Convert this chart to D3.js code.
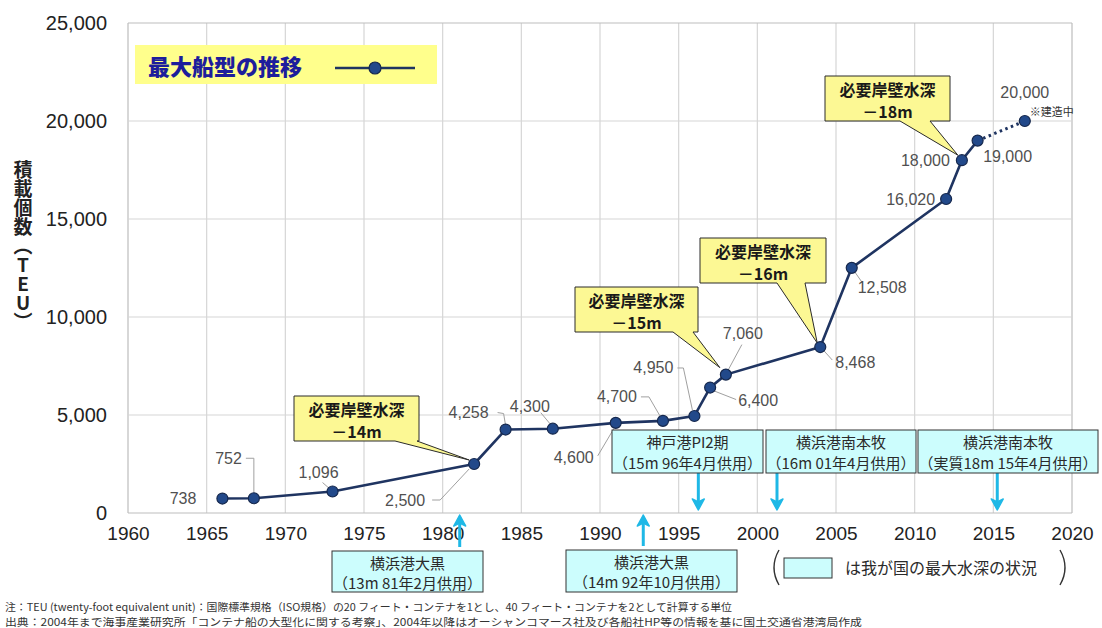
<!DOCTYPE html>
<html>
<head>
<meta charset="utf-8">
<script src="https://cdn.jsdelivr.net/npm/d3@7"></script>
<style>
  body { margin: 0; background: #fff; }
  svg { display: block; }
</style>
</head>
<body>
<svg id="chart" width="1102" height="628"></svg>
<script>
// ---- data ----
const years = [1966, 1968, 1973, 1982, 1984, 1987, 1991, 1994, 1996, 1997, 1998, 2004, 2006, 2012, 2013, 2014, 2017];
const teu   = [738, 752, 1096, 2500, 4258, 4300, 4600, 4700, 4950, 6400, 7060, 8468, 12508, 16020, 18000, 19000, 20000];
const xTicks = [1960, 1965, 1970, 1975, 1980, 1985, 1990, 1995, 2000, 2005, 2010, 2015, 2020];
const yTicks = [0, 5000, 10000, 15000, 20000, 25000];

// required berth depth callouts and the vessel each one points to
const depthLabels = ["－14m", "－15m", "－16m", "－18m"];
const depthYears  = [1982, 1998, 2004, 2013];

// deepest berths in Japan
const portNames = ["横浜港大黒", "横浜港大黒", "神戸港PI2期", "横浜港南本牧", "横浜港南本牧"];
const portNotes = ["（13m 81年2月供用）", "（14m 92年10月供用）", "（15m 96年4月供用）", "（16m 01年4月供用）", "（実質18m 15年4月供用）"];
const portDates = [1981 + 1/12, 1992 + 9/12, 1996 + 3/12, 2001 + 3/12, 2015 + 3/12];

const legendTitle = "最大船型の推移";
const axisTitle = "積載個数（TEU）";
const note1 = "注：TEU (twenty-foot equivalent unit)：国際標準規格（ISO規格）の20 フィート・コンテナを1とし、40 フィート・コンテナを2として計算する単位";
const note2 = "出典：2004年まで海事産業研究所「コンテナ船の大型化に関する考察」、2004年以降はオーシャンコマース社及び各船社HP等の情報を基に国土交通省港湾局作成";

// ---- layout ----
const svg = d3.select("#chart");
const x = d3.scaleLinear().domain([1960, 2020]).range([128, 1072]);
const y = d3.scaleLinear().domain([0, 25000]).range([513, 23]);
const fmt = d3.format(",");
const LATIN = "'Liberation Sans', Arial, 'Noto Sans CJK JP', sans-serif";
const CJK = "'Noto Sans CJK JP', 'Noto Sans CJK SC', sans-serif";
const NAVY = "#1f3461";

// gridlines
const grid = svg.append("g");
grid.selectAll("line.v").data(xTicks).join("line")
  .attr("x1", d => x(d)).attr("x2", d => x(d))
  .attr("y1", y(25000)).attr("y2", y(0))
  .attr("stroke", d => (d === 1960 || d === 2020) ? "#bdbdbd" : "#d6d6d6").attr("stroke-width", 1.2);
grid.selectAll("line.h").data(yTicks).join("line")
  .attr("x1", x(1960)).attr("x2", x(2020))
  .attr("y1", d => y(d)).attr("y2", d => y(d))
  .attr("stroke", d => (d === 0 || d === 25000) ? "#bdbdbd" : "#d6d6d6").attr("stroke-width", 1.2);

// axes (labels only)
const xAxis = svg.append("g").attr("transform", `translate(0,${y(0)})`)
  .call(d3.axisBottom(x).tickValues(xTicks).tickFormat(d3.format("d")).tickSize(0).tickPadding(14));
xAxis.select(".domain").remove();
xAxis.selectAll("text").attr("font-family", LATIN).attr("font-size", 19).attr("fill", "#222");

const yAxis = svg.append("g").attr("transform", `translate(${x(1960)},0)`)
  .call(d3.axisLeft(y).tickValues(yTicks).tickFormat(fmt).tickSize(0).tickPadding(21));
yAxis.select(".domain").remove();
yAxis.selectAll("text").attr("font-family", LATIN).attr("font-size", 20).attr("fill", "#222");

// vertical axis title, set upright in vertical writing mode
svg.append("text")
  .attr("x", 23).attr("y", 160)
  .style("writing-mode", "vertical-rl")
  .style("text-orientation", "upright")
  .attr("font-family", CJK).attr("font-weight", "bold").attr("font-size", 19).attr("fill", "#222")
  .text(axisTitle);

// two-line centred label in a single text element
function twoLines(g, cx, y1, y2, a, b, attrs) {
  const t = g.append("text").attr("text-anchor", "middle");
  Object.entries(attrs).forEach(([k, v]) => t.attr(k, v));
  t.append("tspan").attr("x", cx).attr("y", y1).attr("dominant-baseline", "central").text(a);
  t.append("tspan").attr("x", cx).attr("y", y2).attr("dominant-baseline", "central").text(b);
  return t;
}

// ---- callouts for required berth depth ----
const idxOf = yr => years.indexOf(yr);
const calloutBoxes = [
  { x: 294, y: 396, w: 125, h: 45, b0: 395, b1: 417, tip: [-5, -4] },
  { x: 575, y: 287, w: 123, h: 45, b0: 673, b1: 693, tip: [-6, -7] },
  { x: 700, y: 238, w: 126, h: 45, b0: 777, b1: 805, tip: [-3, -4] },
  { x: 825, y: 76,  w: 125, h: 45, b0: 900, b1: 930, tip: [-4, -5] }
];
const callouts = svg.append("g");
depthLabels.forEach((lab, k) => {
  const b = calloutBoxes[k];
  const i = idxOf(depthYears[k]);
  const tx = x(years[i]) + b.tip[0], ty = y(teu[i]) + b.tip[1];
  const bot = b.y + b.h;
  callouts.append("path")
    .attr("d", `M${b.x},${b.y}H${b.x + b.w}V${bot}H${b.b1}L${tx},${ty}L${b.b0},${bot}H${b.x}Z`)
    .attr("fill", "#fcf894").attr("stroke", "#2b2b2b").attr("stroke-width", 1);
  twoLines(callouts, b.x + b.w / 2, b.y + 12.5, b.y + 34.5, "必要岸壁水深", lab, {
    "font-family": CJK, "font-weight": "bold", "font-size": 16, "fill": "#1a1a1a"
  });
});

// ---- value labels with leader lines ----
// [anchor, dx, dy, leader offsets]
const labelPlace = [
  ["end", -26, 0, null],
  ["end", -12, -40, [[-8, -40], [0, -40], [0, -6]]],
  ["middle", -14, -19, [[-10, -9], [-2, -2]]],
  ["end", -49, 36, [[-42, 36], [-34, 36], [-5, 5]]],
  ["end", -17, -17, [[-8, -17], [-2, -16], [0, -4]]],
  ["end", -3, -22, [[-12, -16], [-2, -4]]],
  ["end", -22, 35, [[-18, 33], [-2, 6]]],
  ["end", -26, -24, [[-22, -24], [-14, -24], [-3, -5]]],
  ["end", -21, -48, [[-17, -48], [-11, -48], [-2, -6]]],
  ["start", 28, 13, [[3, 3], [26, 12]]],
  ["middle", 17, -41, [[16, -30], [2, -4]]],
  ["start", 15, 15, [[3, 3], [12, 13]]],
  ["start", 6, 20, [[3, 4], [10, 14]]],
  ["end", -11, 0, null],
  ["end", -12, 0, null],
  ["middle", 30, 16, null],
  ["middle", 0, -29, null]
];

const pts = years.map((yr, i) => ({ yr, v: teu[i], px: x(yr), py: y(teu[i]), place: labelPlace[i] }));

const leaders = svg.append("g");
pts.forEach(p => {
  const L = p.place[3];
  if (!L) return;
  leaders.append("polyline")
    .attr("points", L.map(o => `${p.px + o[0]},${p.py + o[1]}`).join(" "))
    .attr("fill", "none").attr("stroke", "#a0a0a0").attr("stroke-width", 1);
});

// ---- series line ----
const line = d3.line().x(d => d.px).y(d => d.py);
const solid = pts.slice(0, pts.length - 1);
const planned = pts.slice(pts.length - 2);
svg.append("path").datum(solid).attr("d", line)
  .attr("fill", "none").attr("stroke", NAVY).attr("stroke-width", 2.6).attr("stroke-linejoin", "round");
svg.append("path").datum(planned).attr("d", line)
  .attr("fill", "none").attr("stroke", NAVY).attr("stroke-width", 3).attr("stroke-dasharray", "2.5,3.5");
svg.append("g").selectAll("circle").data(pts).join("circle")
  .attr("cx", d => d.px).attr("cy", d => d.py).attr("r", 5.5)
  .attr("fill", "#22498a").attr("stroke", "#16284d").attr("stroke-width", 1.2);

svg.append("g").selectAll("text").data(pts).join("text")
  .attr("x", d => d.px + d.place[1]).attr("y", d => d.py + d.place[2])
  .attr("text-anchor", d => d.place[0]).attr("dominant-baseline", "central")
  .attr("font-family", LATIN).attr("font-size", 16).attr("fill", "#505050")
  .text(d => fmt(d.v));
// note for the vessel under construction
const last = pts[pts.length - 1];
svg.append("text").attr("x", last.px + 5).attr("y", last.py - 10)
  .attr("dominant-baseline", "central")
  .attr("font-family", CJK).attr("font-size", 11).attr("fill", "#333")
  .text("※建造中");

// ---- legend ----
const lg = svg.append("g");
lg.append("rect").attr("x", 135).attr("y", 45).attr("width", 302).attr("height", 39).attr("fill", "#ffff8c");
lg.append("text").attr("x", 148).attr("y", 65).attr("dominant-baseline", "central")
  .attr("font-family", CJK).attr("font-weight", "900").attr("font-size", 22).attr("fill", "#1d1d9c")
  .text(legendTitle);
lg.append("line").attr("x1", 335).attr("x2", 415).attr("y1", 68).attr("y2", 68)
  .attr("stroke", NAVY).attr("stroke-width", 2.6);
lg.append("circle").attr("cx", 375).attr("cy", 68).attr("r", 6)
  .attr("fill", "#22498a").attr("stroke", "#16284d").attr("stroke-width", 1.2);

// ---- deepest-berth boxes with arrows ----
const portBoxes = [
  { x: 332, y: 551, w: 151, h: 41, up: true },
  { x: 566, y: 550, w: 171, h: 42, up: true },
  { x: 612, y: 430, w: 151, h: 43, up: false },
  { x: 766, y: 430, w: 150, h: 43, up: false },
  { x: 918, y: 430, w: 180, h: 43, up: false }
];
const ARROW = "#1fb8e6";
const ports = svg.append("g");
portNames.forEach((name, k) => {
  const b = portBoxes[k];
  const ax = x(portDates[k]);
  let y0, y1;
  if (b.up) { y0 = b.y - 4; y1 = y(0) + 2; } else { y0 = b.y + b.h; y1 = y(0) - 3; }
  const dir = b.up ? 1 : -1;
  ports.append("line").attr("x1", ax).attr("x2", ax).attr("y1", y0).attr("y2", y1 + dir * 8)
    .attr("stroke", ARROW).attr("stroke-width", 3);
  ports.append("path")
    .attr("d", `M${ax},${y1}L${ax - 6},${y1 + dir * 11}L${ax},${y1 + dir * 8}L${ax + 6},${y1 + dir * 11}Z`)
    .attr("fill", ARROW).attr("stroke", ARROW).attr("stroke-width", 1.5).attr("stroke-linejoin", "round");
  ports.append("rect").attr("x", b.x).attr("y", b.y).attr("width", b.w).attr("height", b.h)
    .attr("fill", "#ccfdfd").attr("stroke", "#333").attr("stroke-width", 1);
  twoLines(ports, b.x + b.w / 2, b.y + b.h * 0.27, b.y + b.h * 0.76, name, portNotes[k], {
    "font-family": CJK, "font-size": 15, "fill": "#2a2a2a"
  });
});

// key for the cyan boxes
const key = svg.append("g");
key.append("path").attr("d", "M779,550 Q769,567.5 779,585").attr("fill", "none").attr("stroke", "#333").attr("stroke-width", 1.4);
key.append("path").attr("d", "M1060,550 Q1070,567.5 1060,585").attr("fill", "none").attr("stroke", "#333").attr("stroke-width", 1.4);
key.append("rect").attr("x", 784).attr("y", 558).attr("width", 48).attr("height", 20)
  .attr("fill", "#ccfdfd").attr("stroke", "#333").attr("stroke-width", 1);
key.append("text").attr("x", 845).attr("y", 567).attr("dominant-baseline", "central")
  .attr("font-family", CJK).attr("font-size", 16).attr("fill", "#2a2a2a")
  .text("は我が国の最大水深の状況");

// footnotes
svg.append("text").attr("x", 5).attr("y", 606).attr("dominant-baseline", "central")
  .attr("font-family", CJK).attr("font-size", 10.5).attr("fill", "#333")
  .attr("textLength", 727).attr("lengthAdjust", "spacingAndGlyphs").text(note1);
svg.append("text").attr("x", 5).attr("y", 621).attr("dominant-baseline", "central")
  .attr("font-family", CJK).attr("font-size", 10.5).attr("fill", "#333")
  .attr("textLength", 857).attr("lengthAdjust", "spacingAndGlyphs").text(note2);
</script>
</body>
</html>
